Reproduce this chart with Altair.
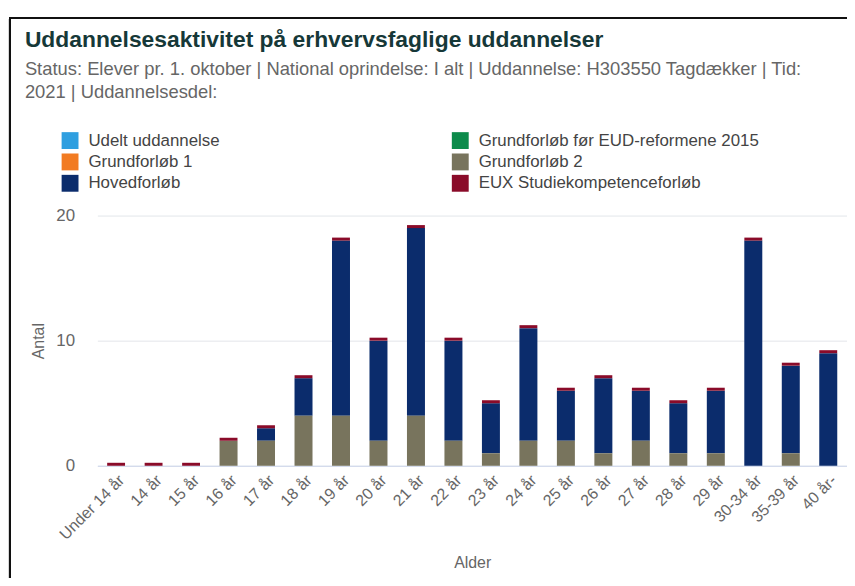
import altair as alt
import pandas as pd

ages = ["Under 14 år", "14 år", "15 år", "16 år", "17 år", "18 år", "19 år", "20 år",
        "21 år", "22 år", "23 år", "24 år", "25 år", "26 år", "27 år", "28 år", "29 år",
        "30-34 år", "35-39 år", "40 år-"]

# legend order (filled column by column)
series = ["Udelt uddannelse", "Grundforløb 1", "Hovedforløb",
          "Grundforløb før EUD-reformene 2015", "Grundforløb 2", "EUX Studiekompetenceforløb"]
colors = ["#2f9fe0", "#f27b22", "#0b2c6c", "#0c8b4b", "#78745d", "#8a0b29"]
stack_rank = [0, 0, 2, 0, 1, 3]

udelt = [0, 0, 0, 0, 0, 0, 0, 0, 0, 0, 0, 0, 0, 0, 0, 0, 0, 0, 0, 0]
gf1 = [0, 0, 0, 0, 0, 0, 0, 0, 0, 0, 0, 0, 0, 0, 0, 0, 0, 0, 0, 0]
hoved = [0, 0, 0, 0, 1, 3, 14, 8, 15, 8, 4, 9, 4, 6, 4, 4, 5, 18, 7, 9]
gf_foer = [0, 0, 0, 0, 0, 0, 0, 0, 0, 0, 0, 0, 0, 0, 0, 0, 0, 0, 0, 0]
gf2 = [0, 0, 0, 2, 2, 4, 4, 2, 4, 2, 1, 2, 2, 1, 2, 1, 1, 0, 1, 0]
eux = [0, 0, 0, 0, 0, 0, 0, 0, 0, 0, 0, 0, 0, 0, 0, 0, 0, 0, 0, 0]

values = [udelt, gf1, hoved, gf_foer, gf2, eux]

rows = []
for s, vals, rk in zip(series, values, stack_rank):
    for a, v in zip(ages, vals):
        rows.append({"Alder": a, "Serie": s, "Antal": v, "rank": rk})
df = pd.DataFrame(rows)

tot = pd.DataFrame({"Alder": ages,
                    "Total": [sum(v[i] for v in values) for i in range(len(ages))]})

FONT = "Liberation Sans"

x_enc = alt.X("Alder:N", sort=ages,
              scale=alt.Scale(paddingInner=0.52, paddingOuter=0.26),
              axis=alt.Axis(title="Alder", labelAngle=-45, labelFontSize=16,
                            labelColor="#666666", labelFont=FONT, ticks=False,
                            domainColor="#ccd6eb", labelPadding=6,
                            titleFontSize=16, titleColor="#666666", titleFont=FONT,
                            titleFontWeight="normal", titlePadding=12))

bars = alt.Chart(df).mark_bar().encode(
    x=x_enc,
    y=alt.Y("sum(Antal):Q", stack="zero",
            scale=alt.Scale(domain=[0, 20], nice=False),
            axis=alt.Axis(title="Antal", values=[0, 10, 20], grid=True,
                          gridColor="#e3e6ea", domain=False, ticks=False,
                          labelFontSize=17, labelColor="#666666", labelFont=FONT,
                          labelPadding=23, titleFontSize=16, titleColor="#666666",
                          titleFont=FONT, titleFontWeight="normal", titlePadding=9)),
    color=alt.Color("Serie:N",
                    scale=alt.Scale(domain=series, range=colors),
                    legend=alt.Legend(title=None, orient="none", legendX=-36, legendY=-84,
                                      columns=2, columnPadding=233, rowPadding=3.5,
                                      symbolType="square", symbolSize=289,
                                      symbolStrokeWidth=0, labelFontSize=17,
                                      labelColor="#444444", labelFont=FONT,
                                      labelOffset=10, padding=0, labelLimit=400)),
    order=alt.Order("rank:Q", sort="ascending"),
)

caps = alt.Chart(tot).mark_tick(color="#8a0b29", thickness=3, size=18, yOffset=-1.5,
                                opacity=1).encode(
    x=alt.X("Alder:N", sort=ages),
    y=alt.Y("Total:Q"),
)

frame = alt.Chart(tot).mark_rect(filled=False, stroke="#111111", strokeWidth=2).encode(
    x=alt.value(-88), x2=alt.value(800), y=alt.value(-199), y2=alt.value(420)
)

chart = alt.layer(frame, bars, caps).properties(
    width=755,
    height=252,
    autosize=alt.AutoSizeParams(type="none"),
    padding={"left": 90, "top": 207, "right": 0, "bottom": 111},
    title=alt.Title(
        text="Uddannelsesaktivitet på erhvervsfaglige uddannelser",
        subtitle=["Status: Elever pr. 1. oktober | National oprindelse: I alt | Uddannelse: H303550 Tagdækker | Tid:",
                  "2021 | Uddannelsesdel:"],
        anchor="start", frame="group", dx=-73, offset=-85,
        font=FONT, fontSize=23, fontWeight="bold", color="#163838",
        subtitleFont=FONT, subtitleFontSize=18.5, subtitleColor="#666666",
        subtitleLineHeight=23, subtitlePadding=8,
    ),
).configure_view(stroke=None)

chart.save("out.html", embed_options={"renderer": "svg", "actions": False})
